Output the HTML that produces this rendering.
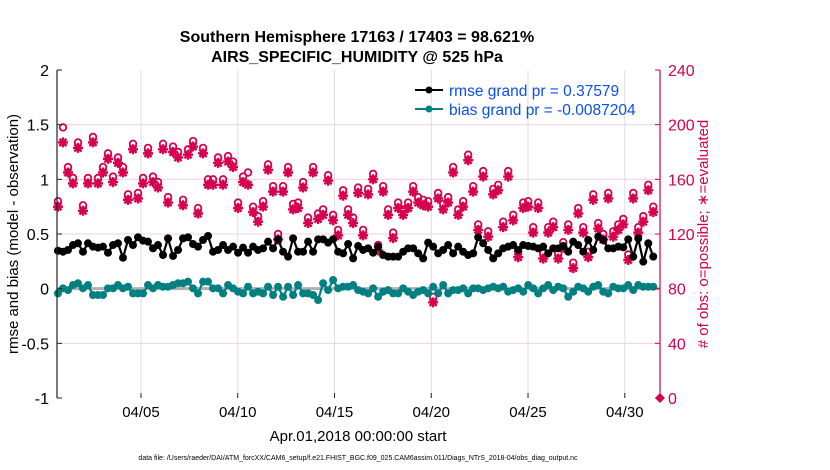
<!DOCTYPE html>
<html><head><meta charset="utf-8"><style>
body{margin:0;background:#fff;}
svg{display:block;font-family:"Liberation Sans",sans-serif;}
</style></head><body>
<svg id="chart" width="830" height="470" viewBox="0 0 830 470">
<text x="357" y="42" text-anchor="middle" font-size="16" font-weight="bold">Southern Hemisphere 17163 / 17403 = 98.621%</text>
<text x="357" y="62" text-anchor="middle" font-size="16" font-weight="bold">AIRS_SPECIFIC_HUMIDITY @ 525 hPa</text>
<g id="grid"></g>
<g id="marks"></g>
<g id="axes"></g>
<g>
<line x1="415" y1="90" x2="443" y2="90" stroke="#000" stroke-width="2"/><circle cx="429" cy="90" r="3.5" fill="#000"/>
<text x="449" y="96" font-size="15.5" fill="#0a4ff0">rmse grand pr = 0.37579</text>
<line x1="415" y1="109" x2="443" y2="109" stroke="#008080" stroke-width="2"/><circle cx="429" cy="109" r="3.5" fill="#008080"/>
<text x="449" y="115" font-size="15.5" fill="#0a4ff0">bias grand pr = -0.0087204</text>
</g>
<text x="18" y="234" transform="rotate(-90 18 234)" text-anchor="middle" font-size="15">rmse and bias (model - observation)</text>
<text x="708" y="234" transform="rotate(-90 708 234)" text-anchor="middle" font-size="15" fill="#d6004f"># of obs: o=possible; ∗=evaluated</text>
<text x="358" y="441" text-anchor="middle" font-size="15">Apr.01,2018 00:00:00 start</text>
<text x="358" y="460" text-anchor="middle" font-size="7">data file: /Users/raeder/DAI/ATM_forcXX/CAM6_setup/f.e21.FHIST_BGC.f09_025.CAM6assim.011/Diags_NTrS_2018-04/obs_diag_output.nc</text>
</svg>
<script>
const leftTicks=[-1,-0.5,0,0.5,1,1.5,2];
const leftTickLabels=["-1","-0.5","0","0.5","1","1.5","2"];
const rightTicks=[0,40,80,120,160,200,240];
const xTickDays=[4,9,14,19,24,29];
const xTickLabels=["04/05","04/10","04/15","04/20","04/25","04/30"];
const rmse=[0.347,0.338,0.354,0.399,0.415,0.338,0.415,0.384,0.375,0.384,0.329,0.399,0.415,0.283,0.445,0.399,0.47,0.439,0.43,0.369,0.399,0.308,0.46,0.299,0.354,0.46,0.47,0.408,0.384,0.445,0.482,0.338,0.354,0.399,0.354,0.384,0.329,0.375,0.329,0.384,0.354,0.369,0.43,0.369,0.451,0.338,0.293,0.46,0.338,0.338,0.43,0.338,0.451,0.451,0.421,0.451,0.338,0.323,0.408,0.277,0.39,
0.354,0.369,0.329,0.384,0.308,0.293,0.293,0.293,0.338,0.369,0.369,0.323,0.277,0.421,0.384,0.323,0.354,0.399,0.323,0.384,0.338,0.308,0.323,0.47,0.415,0.354,0.277,0.323,0.369,0.384,0.399,0.354,0.399,0.39,0.384,0.369,0.384,0.323,0.369,0.369,0.39,0.338,0.43,0.399,0.338,0.445,0.354,0.476,0.445,0.369,0.369,0.384,0.378,0.451,0.293,0.46,0.247,0.415,0.293];
const bias=[-0.043,0.003,-0.013,0.033,0.049,0.003,0.033,-0.058,-0.058,-0.058,0.003,0.003,0.033,0.003,0.018,-0.043,-0.043,-0.043,0.033,0.003,0.033,0.018,0.018,0.033,0.049,0.049,0.064,0.003,-0.043,0.064,0.064,0.003,0.003,-0.043,0.033,0.003,-0.028,-0.043,0.018,-0.043,-0.028,-0.043,0.018,-0.058,0.018,-0.074,0.018,-0.058,0.033,-0.043,-0.043,-0.058,-0.104,0.049,-0.013,0.079,0.003,0.018,0.018,0.033,
-0.013,-0.028,-0.043,0.003,-0.074,-0.028,-0.013,-0.043,-0.043,0.003,-0.028,-0.058,-0.028,-0.013,-0.043,0.018,-0.043,0.033,-0.043,-0.013,-0.013,0.003,-0.043,0.003,0.003,-0.013,0.003,0.018,0.003,0.018,-0.028,-0.013,0.003,-0.028,0.033,0.003,-0.043,0.003,0.033,-0.013,0.018,0.003,-0.074,-0.028,0.018,0.003,-0.028,0.018,0.033,-0.028,-0.043,0.018,0.003,0.003,0.033,-0.013,0.033,0.018,0.018,0.018];
const evaluated=[140,187,165,157,183,137,157,187,157,165,175,158,172,165,145,182,146,157,179,158,154,182,143,180,176,141,178,184,135,179,156,156,172,156,173,169,139,158,156,136,129,140,167,151,116,151,165,138,139,154,128,165,131,134,159,130,119,148,134,128,
150,119,149,160,108,151,134,117,139,134,139,151,143,141,140,70,146,138,143,165,134,140,174,151,123,162,118,149,152,125,162,130,103,139,140,121,139,102,121,125,102,110,123,95,135,121,103,145,124,116,146,118,123,127,101,146,121,129,152,136];
const possible=[144,198,169,161,187,141,161,191,161,169,179,162,176,169,149,186,150,161,183,162,158,186,147,184,180,145,182,188,139,183,160,160,176,160,177,173,143,162,165,140,133,144,171,155,120,155,169,142,143,158,132,169,135,138,163,134,123,152,138,132,
154,123,153,164,112,155,138,121,143,138,143,155,147,145,144,74,150,142,147,169,138,144,178,155,127,166,122,153,156,129,166,134,107,143,144,125,143,106,125,129,106,114,127,99,139,125,107,149,128,120,150,122,127,131,105,150,125,133,156,140];
const T0=-0.29, DT=0.2585;
const NS="http://www.w3.org/2000/svg";
const L=57,R=660,TOP=70,BOT=398;
const XMIN=-0.34,XMAX=30.82;
function xs(d){return L+(d-XMIN)/(XMAX-XMIN)*(R-L);}
function yl(v){return BOT-(v+1)/3*(BOT-TOP);}
function yr(c){return BOT-c/240*(BOT-TOP);}
function mk(tag,attrs,parent){const e=document.createElementNS(NS,tag);for(const k in attrs)e.setAttribute(k,attrs[k]);parent.appendChild(e);return e;}
const grid=document.getElementById('grid'),marks=document.getElementById('marks'),axes=document.getElementById('axes');
const times=rmse.map((_,i)=>T0+i*DT);
xTickDays.forEach((d,i)=>{
 const g=mk('line',{x1:xs(d),x2:xs(d),y1:TOP,y2:BOT,stroke:'#ddd','stroke-width':1},grid);
 
 
 const t=mk('text',{x:xs(d),y:BOT+19,'text-anchor':'middle','font-size':15},axes);
 t.textContent=xTickLabels[i];
 
 
 mk('line',{x1:xs(d),x2:xs(d),y1:BOT,y2:BOT-5,stroke:'#222'},axes);
});
leftTicks.forEach((v,i)=>{
 if(v>-1&&v<2){const g=mk('line',{x1:L,x2:R,y1:yl(v),y2:yl(v),stroke:'#f6d0dc','stroke-width':1},grid);
 
 }
 const t=mk('text',{x:L-8,y:yl(v)+6,'text-anchor':'end','font-size':16},axes);
 t.textContent=leftTickLabels[i];
 
 
 mk('line',{x1:L,x2:L+5,y1:yl(v),y2:yl(v),stroke:'#222'},axes);
});
rightTicks.forEach(c=>{
 const t=mk('text',{x:R+8,y:yr(c)+6,'font-size':16,fill:'#d6004f'},axes);
 t.textContent=String(c);
 
 
 mk('line',{x1:R,x2:R-5,y1:yr(c),y2:yr(c),stroke:'#d6004f'},axes);
});
mk('line',{x1:L,x2:L,y1:TOP,y2:BOT,stroke:'#222','stroke-width':1.2},axes);
mk('line',{x1:R,x2:R,y1:TOP,y2:BOT,stroke:'#d6004f','stroke-width':1.2},axes);
mk('polygon',{points:`${R},${BOT-5} ${R+5},${BOT} ${R},${BOT+5} ${R-5},${BOT}`,fill:'#d6004f'},axes);
const z=mk('line',{x1:L,x2:R,y1:yl(0),y2:yl(0),stroke:'#b0b0b0','stroke-width':3},marks);


possible.forEach((c,i)=>{
 const p=mk('circle',{cx:xs(times[i]),cy:yr(c),r:3.3,fill:'none',stroke:'#d6004f','stroke-width':1.8},marks);
 
 
});
evaluated.forEach((c,i)=>{
 const x=xs(times[i]),y=yr(c),r=5,d=3.6;
 const g=mk('path',{d:`M${x-r},${y}H${x+r}M${x},${y-r}V${y+r}M${x-d},${y-d}L${x+d},${y+d}M${x-d},${y+d}L${x+d},${y-d}`,stroke:'#d6004f','stroke-width':2.4},marks);
 
 
});
function series(arr,color,name){
 const pts=arr.map((v,i)=>xs(times[i]).toFixed(1)+','+yl(v).toFixed(1)).join(' ');
 const pl=mk('polyline',{points:pts,fill:'none',stroke:color,'stroke-width':2.2},marks);
 
 
 arr.forEach((v,i)=>{
  const c=mk('circle',{cx:xs(times[i]),cy:yl(v),r:4,fill:color},marks);
  
  
 });
}
series(bias,'#008080','bias');
series(rmse,'#000000','rmse');
</script>
</body></html>
